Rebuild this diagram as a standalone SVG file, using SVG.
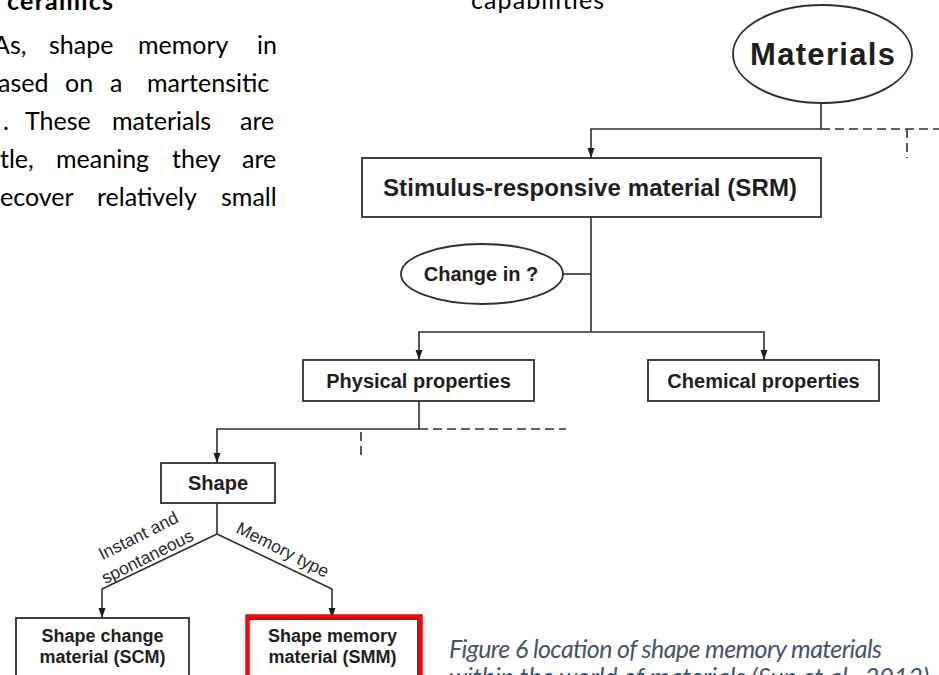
<svg xmlns="http://www.w3.org/2000/svg" width="939" height="675" viewBox="0 0 939 675">
<style>
.body{font-family:Lato,"Open Sans","Liberation Sans",sans-serif;font-size:25px;fill:#000}
.bold{font-weight:bold}
.cap{font-family:Lato,"Open Sans","Liberation Sans",sans-serif;font-size:25px;font-style:italic;fill:#44546A}
.box{fill:#fff;stroke:#2e2e2e;stroke-width:1.8}
.lbl{font-family:"Liberation Sans",Arial,sans-serif;font-weight:bold;fill:#1e1e1e;text-anchor:middle}
.edge{font-family:"Liberation Sans",Arial,sans-serif;fill:#2a2a2a;text-anchor:middle;font-size:17.5px}
.ln{fill:none;stroke:#2e2e2e;stroke-width:1.6}
.dash{fill:none;stroke:#2e2e2e;stroke-width:1.6;stroke-dasharray:9,5}
.arr{marker-end:url(#ah)}
</style>
<defs>
<marker id="ah" markerUnits="userSpaceOnUse" markerWidth="10" markerHeight="8" refX="10" refY="4" orient="auto">
<path d="M0,0.5 L10,4 L0,7.5 z" fill="#1e1e1e"/>
</marker>
</defs>
<rect width="939" height="675" fill="#fff"/>

<g id="page-text">
<text class="body bold" x="7" y="10" textLength="106">ceramics</text>
<text class="body" y="9" x="471" textLength="133">capabilities</text>
<text class="body" y="54"><tspan x="-7">As,</tspan><tspan x="49">shape</tspan><tspan x="138">memory</tspan><tspan x="257">in</tspan></text>
<text class="body" y="92"><tspan x="-2">ased</tspan><tspan x="65">on</tspan><tspan x="110">a</tspan><tspan x="147">martensitic</tspan></text>
<text class="body" y="130"><tspan x="3">.</tspan><tspan x="25">These</tspan><tspan x="112">materials</tspan><tspan x="240">are</tspan></text>
<text class="body" y="168"><tspan x="0">tle,</tspan><tspan x="56">meaning</tspan><tspan x="172">they</tspan><tspan x="242">are</tspan></text>
<text class="body" y="206"><tspan x="0">ecover</tspan><tspan x="97">relatively</tspan><tspan x="221">small</tspan></text>
<text class="cap" x="449" y="658" textLength="433">Figure 6 location of shape memory materials</text>
<text class="cap" x="449" y="686">within the world of materials (Sun et al., 2012)</text>
</g>

<g id="connectors">
<path class="ln" d="M821,103 V129"/>
<path class="ln arr" d="M821,129 H591 V158"/>
<path class="dash" d="M821,129 H939"/>
<path class="dash" d="M907,129 V158"/>
<path class="ln" d="M591,217 V332"/>
<path class="ln" d="M563,274 H591"/>
<path class="ln arr" d="M591,332 H419 V360"/>
<path class="ln arr" d="M591,332 H764 V360"/>
<path class="ln" d="M419,401 V429"/>
<path class="ln arr" d="M419,429 H217 V463"/>
<path class="dash" d="M419,429 H566"/>
<path class="dash" d="M361,432 V459"/>
<path class="ln" d="M217,503 V534"/>
<path class="ln arr" d="M217,534 L102,589 V618"/>
<path class="ln arr" d="M217,534 L332,589 V618"/>
<text class="edge" transform="translate(141,541) rotate(-26.5)">Instant and</text>
<text class="edge" transform="translate(150,562) rotate(-26.5)">spontaneous</text>
<text class="edge" transform="translate(280,555) rotate(27)">Memory type</text>
</g>

<g id="materials">
<ellipse class="box" cx="822.5" cy="54" rx="89.5" ry="49"/>
<text class="lbl" x="822.5" y="65" font-size="31" textLength="145">Materials</text>
</g>
<g id="srm">
<rect class="box" x="362" y="158" width="459" height="59"/>
<text class="lbl" x="590" y="196" font-size="24" textLength="414">Stimulus-responsive material (SRM)</text>
</g>
<g id="change">
<ellipse class="box" cx="482" cy="274" rx="81" ry="30"/>
<text class="lbl" x="481" y="281" font-size="20">Change in ?</text>
</g>
<g id="physical">
<rect class="box" x="303" y="360" width="231" height="41"/>
<text class="lbl" x="418.5" y="387.5" font-size="20">Physical properties</text>
</g>
<g id="chemical">
<rect class="box" x="648" y="360" width="231" height="41"/>
<text class="lbl" x="763.5" y="387.5" font-size="20">Chemical properties</text>
</g>
<g id="shape">
<rect class="box" x="161" y="463" width="114" height="40"/>
<text class="lbl" x="218" y="490" font-size="20">Shape</text>
</g>
<g id="scm">
<rect class="box" x="16" y="618" width="173" height="80"/>
<text class="lbl" x="102.5" y="642" font-size="18">Shape change</text>
<text class="lbl" x="102.5" y="663" font-size="18">material (SCM)</text>
</g>
<g id="smm">
<rect class="box" x="248" y="619" width="170" height="80"/>
<rect x="247.5" y="616.5" width="173" height="80" fill="none" stroke="#ff0000" stroke-width="4.5"/>
<text class="lbl" x="332.5" y="642" font-size="18">Shape memory</text>
<text class="lbl" x="332.5" y="663" font-size="18">material (SMM)</text>
</g>
</svg>
